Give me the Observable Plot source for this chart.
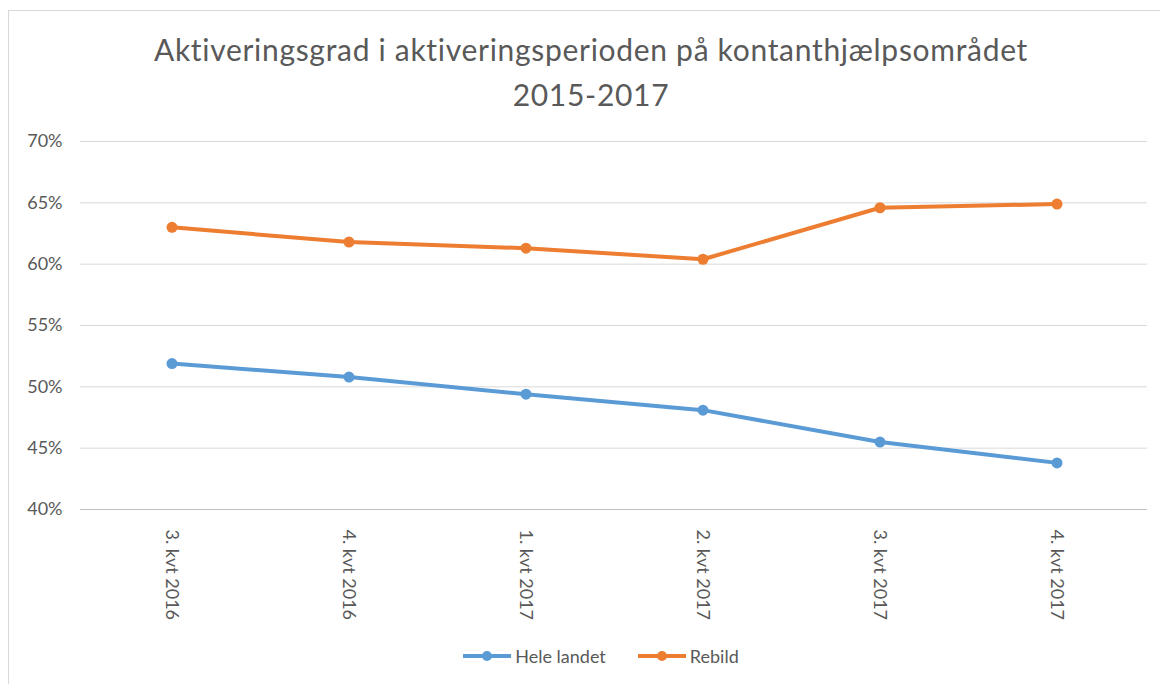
<!DOCTYPE html>
<html>
<head>
<meta charset="utf-8">
<script src="https://cdn.jsdelivr.net/npm/d3@7"></script>
<script src="https://cdn.jsdelivr.net/npm/@observablehq/plot@0.6"></script>
<style>
  html, body { margin: 0; padding: 0; background: #fff; }
  body { width: 1160px; height: 684px; overflow: hidden; position: relative; font-family: Lato, "Open Sans", sans-serif; }
  #frame { position: absolute; left: 8px; top: 10px; width: 1200px; height: 720px; border-top: 1.5px solid #d9d9d9; border-left: 1.5px solid #d9d9d9; }
  #title { position: absolute; left: 0; top: 27px; width: 1182px; text-align: center; color: #595959; font-size: 30px; letter-spacing: 0.7px; line-height: 45px; }
  #chart { position: absolute; left: 0; top: 125px; }
  #legend { position: absolute; top: 645px; left: 0; width: 1200px; display: flex; justify-content: center; gap: 30px; font-size: 18px; color: #595959; }
  .item { display: flex; align-items: center; gap: 2px; }
</style>
</head>
<body>
<div id="frame"></div>
<div id="title">Aktiveringsgrad i aktiveringsperioden på kontanthjælpsområdet<br>2015-2017</div>
<div id="chart"></div>
<div id="legend"></div>
<script>
const quarters = ["3. kvt 2016", "4. kvt 2016", "1. kvt 2017", "2. kvt 2017", "3. kvt 2017", "4. kvt 2017"];
const heleLandet = [0.519, 0.508, 0.494, 0.481, 0.455, 0.438];
const rebild = [0.630, 0.618, 0.613, 0.604, 0.646, 0.649];
const seriesNames = ["Hele landet", "Rebild"];
const seriesColors = ["#5B9BD5", "#ED7D31"];
const yTicks = [0.40, 0.45, 0.50, 0.55, 0.60, 0.65, 0.70];

const data = [];
quarters.forEach((q, i) => {
  data.push({ q, v: heleLandet[i], s: seriesNames[0] });
  data.push({ q, v: rebild[i], s: seriesNames[1] });
});

const plot = Plot.plot({
  width: 1160,
  height: 504,
  marginTop: 16,
  marginBottom: 120,
  marginLeft: 80,
  marginRight: 13,
  style: { fontFamily: "Lato, 'Open Sans', sans-serif", fontSize: "18px", color: "#595959", background: "transparent" },
  x: { type: "band", domain: quarters, padding: 0, label: null },
  y: { domain: [0.40, 0.70], label: null },
  color: { domain: seriesNames, range: seriesColors },
  marks: [
    Plot.gridY(yTicks, { stroke: "#d9d9d9", strokeOpacity: 1, strokeWidth: 1 }),
    Plot.ruleY([0.40], { stroke: "#bfbfbf", strokeWidth: 1 }),
    Plot.axisY({ ticks: yTicks, tickFormat: d3.format(".0%"), tickSize: 0, tickPadding: 18, fontSize: 18 }),
    Plot.axisX({ tickRotate: 90, tickSize: 0, tickPadding: 20, fontSize: 18 }),
    Plot.lineY(data, { x: "q", y: "v", z: "s", stroke: "s", strokeWidth: 4 }),
    Plot.dot(data, { x: "q", y: "v", fill: "s", r: 5.5 })
  ]
});
document.getElementById("chart").appendChild(plot);

const legend = document.getElementById("legend");
seriesNames.forEach((name, i) => {
  const item = document.createElement("div");
  item.className = "item";
  item.innerHTML = `<svg width="52" height="12"><line x1="2" y1="6" x2="50" y2="6" stroke="${seriesColors[i]}" stroke-width="4"/><circle cx="26" cy="6" r="5" fill="${seriesColors[i]}"/></svg><span>${name}</span>`;
  legend.appendChild(item);
});
</script>
</body>
</html>
